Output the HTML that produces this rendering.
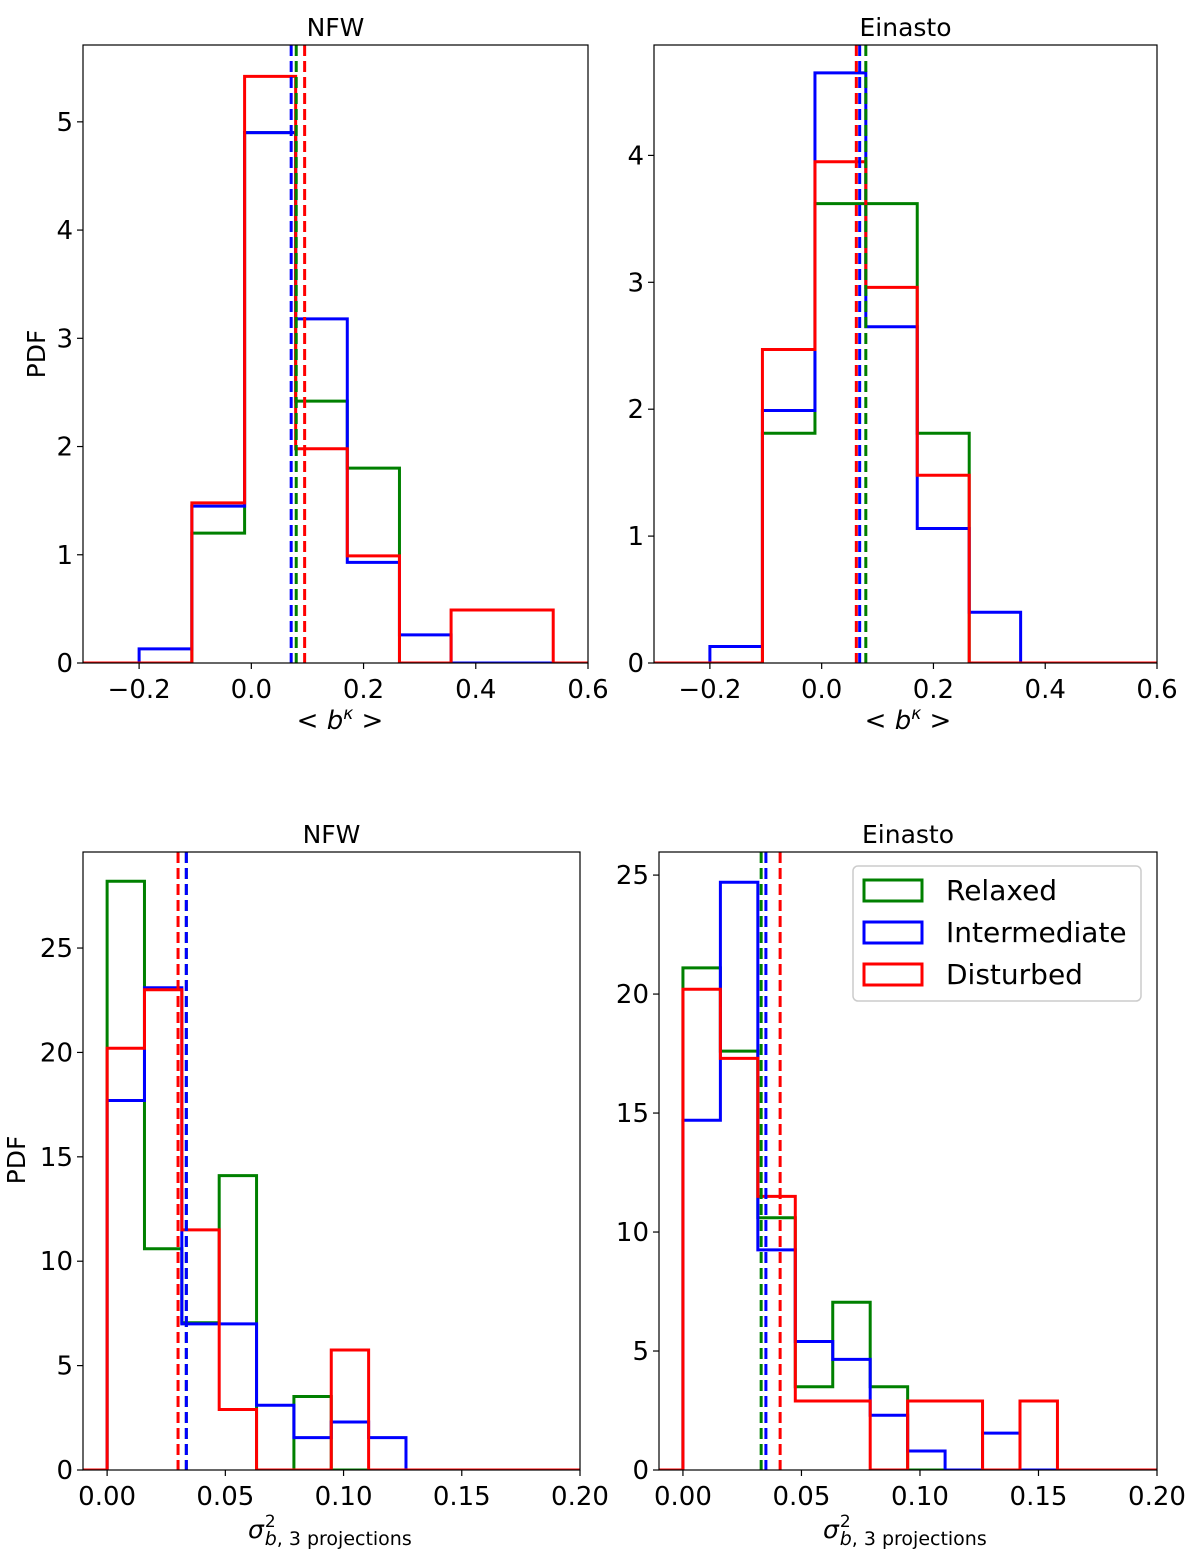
<!DOCTYPE html>
<html><head><meta charset="utf-8"><style>
html,body{margin:0;padding:0;background:#fff}
svg text{font-family:"DejaVu Sans","Liberation Sans",sans-serif;fill:#000}
</style></head><body>
<svg id="fig" width="1200" height="1558" viewBox="0 0 1200 1558" xmlns="http://www.w3.org/2000/svg"></svg>
<script>
const topEdges = [-0.2,-0.106,-0.012,0.079,0.171,0.264,0.356,0.447,0.538];
const botEdges = [0,0.0158,0.0316,0.0474,0.0632,0.079,0.0948,0.1106,0.1264,0.1422,0.158];
const nfwTopRelaxed = [0,1.2,4.9,2.42,1.8,0,0,0];
const nfwTopInter   = [0.13,1.45,4.9,3.18,0.93,0.26,0,0];
const nfwTopDist    = [0,1.48,5.42,1.98,0.99,0,0.49,0.49];
const nfwTopMeans   = [0.08,0.071,0.095];
const einTopRelaxed = [0,1.81,3.62,3.62,1.81,0,0,0];
const einTopInter   = [0.13,1.99,4.65,2.65,1.06,0.4,0,0];
const einTopDist    = [0,2.47,3.95,2.96,1.48,0,0,0];
const einTopMeans   = [0.079,0.068,0.062];
const nfwBotRelaxed = [28.2,10.6,7.05,14.1,0,3.52,0,0,0,0];
const nfwBotInter   = [17.7,23.1,7.0,7.0,3.1,1.55,2.3,1.55,0,0];
const nfwBotDist    = [20.2,23.0,11.5,2.9,0,0,5.75,0,0,0];
const nfwBotMeans   = [0.0335,0.0335,0.030];
const einBotRelaxed = [21.1,17.6,10.6,3.5,7.05,3.5,0,0,0,0];
const einBotInter   = [14.7,24.7,9.25,5.4,4.65,2.3,0.8,0,1.55,0];
const einBotDist    = [20.2,17.3,11.5,2.9,2.9,0,2.9,2.9,0,2.9];
const einBotMeans   = [0.033,0.035,0.041];
const topXTicks = [-0.2,0,0.2,0.4,0.6];
const topXLabels = ["\u22120.2","0.0","0.2","0.4","0.6"];
const botXTicks = [0,0.05,0.1,0.15,0.2];
const botXLabels = ["0.00","0.05","0.10","0.15","0.20"];
const colors = ["#008000","#0000ff","#ff0000"];
const seriesNames = ["relaxed","intermediate","disturbed"];

const NS="http://www.w3.org/2000/svg";
const svg=document.getElementById('fig');
function mk(tag,attrs,parent){const e=document.createElementNS(NS,tag);for(const k in attrs)e.setAttribute(k,attrs[k]);(parent||svg).appendChild(e);return e;}

function panel(p){
  const g=mk('g',{});
  
  
  const sx=v=>p.x0+(v-p.xmin)/(p.xmax-p.xmin)*(p.x1-p.x0);
  const sy=v=>p.y1-(v-p.ymin)/(p.ymax-p.ymin)*(p.y1-p.y0);
  const clip='c'+p.name;
  const cp=mk('clipPath',{id:clip},g);mk('rect',{x:p.x0,y:p.y0,width:p.x1-p.x0,height:p.y1-p.y0},cp);
  const hg=mk('g',{'clip-path':`url(#${clip})`},g);
  p.series.forEach((vals,si)=>{
    let d=`M${sx(p.xmin)},${sy(0)} L${sx(p.edges[0])},${sy(0)}`;
    vals.forEach((v,i)=>{d+=` L${sx(p.edges[i])},${sy(v)} L${sx(p.edges[i+1])},${sy(v)}`;});
    d+=` L${sx(p.edges[vals.length])},${sy(0)} L${sx(p.xmax)},${sy(0)}`;
    const path=mk('path',{d:d,fill:'none',stroke:colors[si],'stroke-width':3,'stroke-linejoin':'miter'},hg);
    
    
  });
  p.means.forEach((m,si)=>{
    const l=mk('line',{x1:sx(m),x2:sx(m),y1:p.y0,y2:p.y1,stroke:colors[si],'stroke-width':3,'stroke-dasharray':'11,5'},hg);
    
    
  });
  mk('rect',{x:p.x0,y:p.y0,width:p.x1-p.x0,height:p.y1-p.y0,fill:'none',stroke:'#000','stroke-width':1.2},g);
  p.xticks.forEach((t,i)=>{
    const x=sx(t);mk('line',{x1:x,x2:x,y1:p.y1,y2:p.y1+6,stroke:'#000','stroke-width':1.2},g);
    const tx=mk('text',{x:x,y:p.y1+35,'text-anchor':'middle','font-size':26},g);tx.textContent=p.xlabels[i];
    
    
  });
  p.yticks.forEach(t=>{
    const y=sy(t);mk('line',{x1:p.x0-6,x2:p.x0,y1:y,y2:y,stroke:'#000','stroke-width':1.2},g);
    const tx=mk('text',{x:p.x0-10,y:y+9,'text-anchor':'end','font-size':26},g);tx.textContent=String(t);
    
    
  });
  const ti=mk('text',{x:(p.x0+p.x1)/2,y:p.y0-9,'text-anchor':'middle','font-size':25},g);ti.textContent=p.title;
  
  
  return {g,sx,sy};
}

const yT5=[0,1,2,3,4,5], yT4=[0,1,2,3,4], yT25=[0,5,10,15,20,25];
panel({name:'panel-nfw-bias',title:'NFW',x0:83,x1:588,y0:45,y1:663,xmin:-0.3,xmax:0.6,ymin:0,ymax:5.71,edges:topEdges,series:[nfwTopRelaxed,nfwTopInter,nfwTopDist],means:nfwTopMeans,xticks:topXTicks,xlabels:topXLabels,yticks:yT5});
panel({name:'panel-einasto-bias',title:'Einasto',x0:654,x1:1157,y0:45,y1:663,xmin:-0.3,xmax:0.6,ymin:0,ymax:4.87,edges:topEdges,series:[einTopRelaxed,einTopInter,einTopDist],means:einTopMeans,xticks:topXTicks,xlabels:topXLabels,yticks:yT4});
panel({name:'panel-nfw-scatter',title:'NFW',x0:83,x1:580,y0:852,y1:1470,xmin:-0.0102,xmax:0.2,ymin:0,ymax:29.6,edges:botEdges,series:[nfwBotRelaxed,nfwBotInter,nfwBotDist],means:nfwBotMeans,xticks:botXTicks,xlabels:botXLabels,yticks:yT25});
panel({name:'panel-einasto-scatter',title:'Einasto',x0:659,x1:1157,y0:852,y1:1470,xmin:-0.0101,xmax:0.2,ymin:0,ymax:25.97,edges:botEdges,series:[einBotRelaxed,einBotInter,einBotDist],means:einBotMeans,xticks:botXTicks,xlabels:botXLabels,yticks:yT25});
</script>
<svg style="position:absolute;left:0;top:0" width="1200" height="1558">
  <text transform="translate(45,354) rotate(-90)" text-anchor="middle" font-size="25">PDF</text>
  <text transform="translate(25,1160) rotate(-90)" text-anchor="middle" font-size="25">PDF</text>
  <text x="340" y="729" text-anchor="middle" font-size="26">&lt; <tspan font-style="italic">b</tspan><tspan font-size="17" dy="-10" font-style="italic">κ</tspan><tspan dy="10"> &gt;</tspan></text>
  <text x="908" y="729" text-anchor="middle" font-size="26">&lt; <tspan font-style="italic">b</tspan><tspan font-size="17" dy="-10" font-style="italic">κ</tspan><tspan dy="10"> &gt;</tspan></text>
  <text x="248" y="1538" font-size="25"><tspan font-style="italic">σ</tspan><tspan font-size="17" dx="1" dy="-11">2</tspan><tspan font-size="19" dx="-11" dy="18"><tspan font-style="italic">b</tspan>, 3 projections</tspan></text>
  <text x="823" y="1538" font-size="25"><tspan font-style="italic">σ</tspan><tspan font-size="17" dx="1" dy="-11">2</tspan><tspan font-size="19" dx="-11" dy="18"><tspan font-style="italic">b</tspan>, 3 projections</tspan></text>
  <g>
    <rect x="853" y="866" width="288" height="135" rx="5" fill="#fff" fill-opacity="0.85" stroke="#ccc" stroke-width="1.5"/>
    <g><rect x="864" y="880" width="58" height="21" fill="none" stroke="#008000" stroke-width="3"/><text x="946" y="900" font-size="28">Relaxed</text></g>
    <g><rect x="864" y="922" width="58" height="21" fill="none" stroke="#0000ff" stroke-width="3"/><text x="946" y="942" font-size="28">Intermediate</text></g>
    <g><rect x="864" y="964" width="58" height="21" fill="none" stroke="#ff0000" stroke-width="3"/><text x="946" y="984" font-size="28">Disturbed</text></g>
  </g>
</svg>
</body></html>
